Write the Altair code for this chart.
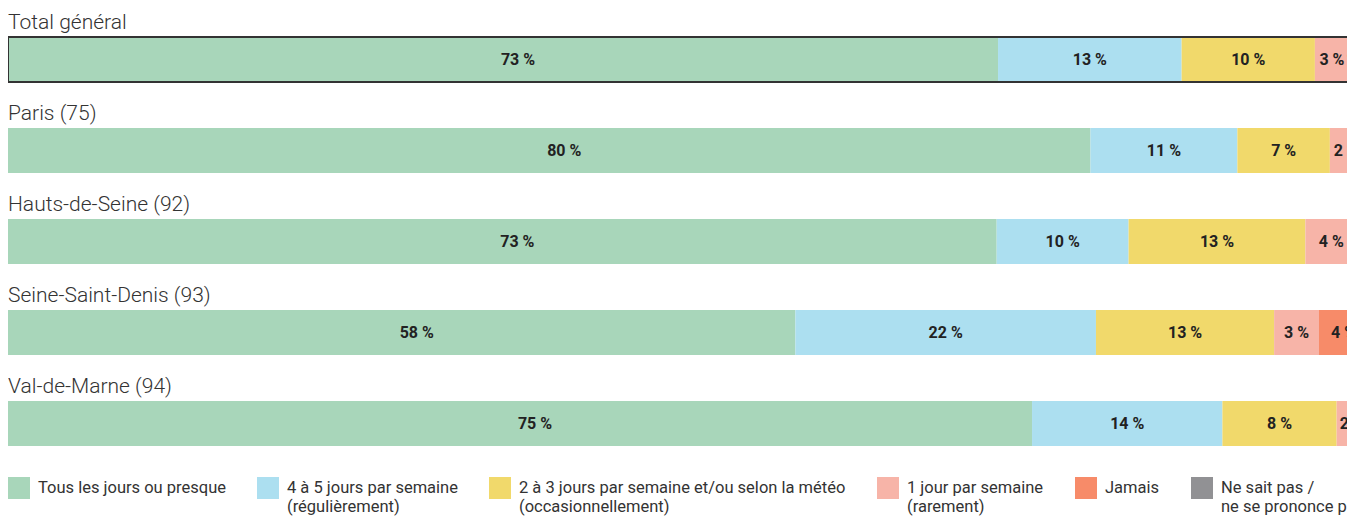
import altair as alt
import pandas as pd

rows = ["Total général", "Paris (75)", "Hauts-de-Seine (92)",
        "Seine-Saint-Denis (93)", "Val-de-Marne (94)"]
categories = ["Tous les jours ou presque|",
              "4 à 5 jours par semaine|(régulièrement)",
              "2 à 3 jours par semaine et/ou selon la météo|(occasionnellement)",
              "1 jour par semaine|(rarement)",
              "Jamais|",
              "Ne sait pas /|ne se prononce pas"]
colors = ["#a8d6ba", "#acdff0", "#f1d96b", "#f7b4a8", "#f78b69", "#919194"]

share_tous = [72.8, 79.6, 72.7, 57.9, 75.3]
share_4_5 = [13.5, 10.8, 9.7, 22.1, 14.0]
share_2_3 = [9.8, 6.8, 13.0, 13.1, 8.4]
share_1 = [2.5, 2.4, 3.8, 3.3, 2.3]
share_jamais = [1.4, 0.4, 0.8, 3.6, 0.0]
share_nsp = [0.0, 0.0, 0.0, 0.0, 0.0]

label_tous = ["73 %", "80 %", "73 %", "58 %", "75 %"]
label_4_5 = ["13 %", "11 %", "10 %", "22 %", "14 %"]
label_2_3 = ["10 %", "7 %", "13 %", "13 %", "8 %"]
label_1 = ["3 %", "2 %", "4 %", "3 %", "2 %"]
label_jamais = ["1 %", "", "", "4 %", ""]
label_nsp = ["", "", "", "", ""]

series = [share_tous, share_4_5, share_2_3, share_1, share_jamais, share_nsp]
labels = [label_tous, label_4_5, label_2_3, label_1, label_jamais, label_nsp]

records = []
for r, row in enumerate(rows):
    start = 0.0
    for c, cat in enumerate(categories):
        v = series[c][r]
        end = start + v
        records.append({"row": row, "category": cat, "order": c,
                        "start": start, "end": end, "mid": (start + end) / 2,
                        "label": labels[c][r]})
        start = end
df = pd.DataFrame(records)
df = df[df["end"] > df["start"]]

titles = pd.DataFrame({"row": rows})
outline = pd.DataFrame({"row": [rows[0]], "x0": [0.0], "x1": [100.0]})

FONT = "Roboto"
xscale = alt.Scale(domain=[0, 98.46], nice=False, zero=True)
yenc = alt.Y("row:N", sort=rows, axis=None,
             scale=alt.Scale(paddingInner=0, paddingOuter=0))

bars = alt.Chart(df).mark_bar(height=45, clip=True, strokeWidth=0).encode(
    x=alt.X("start:Q", scale=xscale, axis=None),
    x2="end:Q",
    y=yenc,
    color=alt.Color("category:N",
                    scale=alt.Scale(domain=categories, range=colors),
                    legend=alt.Legend(
                        orient="none", legendX=0, legendY=463,
                        direction="horizontal", columns=6, title=None,
                        symbolType="square", symbolSize=484,
                        symbolStrokeWidth=0, symbolOpacity=1,
                        labelFont=FONT, labelFontSize=16.5, labelColor="#333",
                        labelLimit=600, labelOffset=8, columnPadding=31,
                        labelExpr="split(datum.label, '|')",
                        labelBaseline="middle",
                        padding=0)),
)

text_green = alt.Chart(df).transform_filter("datum.order == 0").mark_text(
    font=FONT, fontWeight="bold", fontSize=16, color="#222", clip=True, dx=15
).encode(x=alt.X("mid:Q", scale=xscale, axis=None), y=yenc, text="label:N")

text_other = alt.Chart(df).transform_filter("datum.order > 0").mark_text(
    font=FONT, fontWeight="bold", fontSize=16, color="#222", clip=True
).encode(x=alt.X("mid:Q", scale=xscale, axis=None), y=yenc, text="label:N")

row_titles = alt.Chart(titles).mark_text(
    font=FONT, fontWeight=300, fontSize=21, color="#333",
    align="left", baseline="middle", dy=-37
).encode(x=alt.datum(0, scale=xscale), y=yenc, text="row:N")

frame = alt.Chart(outline).mark_bar(
    height=45, fillOpacity=0, stroke="#333", strokeWidth=2, clip=True
).encode(x=alt.X("x0:Q", scale=xscale, axis=None), x2="x1:Q", y=yenc)

chart = alt.layer(bars, frame, text_green, text_other, row_titles).properties(
    width=1339, height=455,
    padding={"left": 0, "top": 6, "right": 0, "bottom": 50},
    autosize=alt.AutoSizeParams(type="none"),
).configure_view(stroke=None)

chart.save("out.html", embed_options={"renderer": "svg", "actions": False})
